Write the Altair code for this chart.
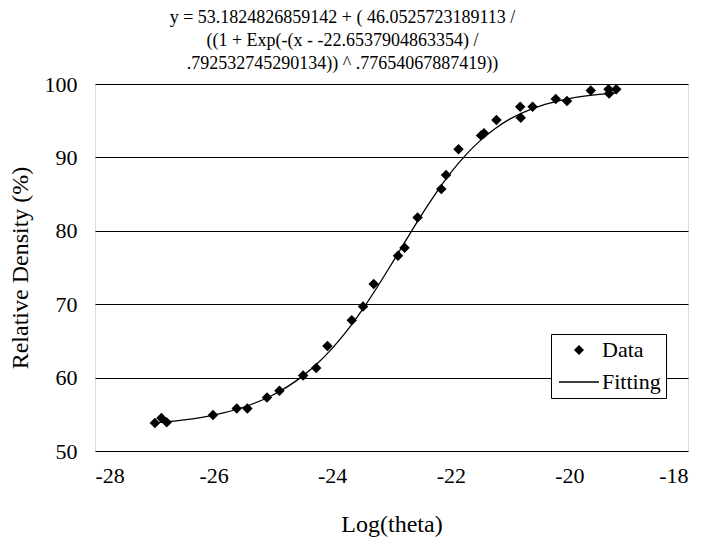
import altair as alt
import pandas as pd

# Measured data points (Log(theta), Relative Density %)
data_x = [-26.99, -26.88, -26.79, -26.01, -25.61, -25.43, -25.10, -24.89, -24.49,
          -24.27, -24.08, -23.67, -23.48, -23.30, -22.89, -22.78, -22.56, -22.16,
          -22.08, -21.87, -21.49, -21.44, -21.23, -20.83, -20.82, -20.62, -20.23,
          -20.04, -19.64, -19.34, -19.33, -19.21]
data_y = [53.8, 54.5, 53.9, 54.9, 55.8, 55.8, 57.3, 58.2, 60.3,
          61.3, 64.3, 67.8, 69.7, 72.75, 76.6, 77.7, 81.8, 85.7,
          87.6, 91.1, 93.0, 93.3, 95.1, 96.9, 95.4, 96.9, 97.96,
          97.7, 99.1, 99.3, 98.7, 99.3]

# Fitting curve
fit_x = [-27.0, -26.5, -26.0, -25.5, -25.0, -24.5, -24.25, -24.0, -23.75, -23.5,
         -23.25, -23.0, -22.75, -22.5, -22.25, -22.0, -21.75, -21.5, -21.25, -21.0,
         -20.5, -20.0, -19.5, -19.2]
fit_y = [53.83, 54.24, 54.90, 55.96, 57.63, 60.20, 61.93, 63.99, 66.40, 69.16,
         72.21, 75.46, 78.80, 82.07, 85.14, 87.92, 90.31, 92.32, 93.95, 95.24,
         97.00, 98.02, 98.58, 98.78]

x_ticks = [-28, -26, -24, -22, -20, -18]
y_ticks = [50, 60, 70, 80, 90, 100]
series_names = ["Data", "Fitting"]

title_lines = ["y = 53.1824826859142 + ( 46.0525723189113 /",
               "((1 + Exp(-(x - -22.6537904863354) /",
               ".792532745290134)) ^  .77654067887419))"]

FONT = "'Liberation Serif', 'Times New Roman', 'DejaVu Serif', serif"

pts = pd.DataFrame({"x": data_x, "y": data_y, "series": "Data"})
fit = pd.DataFrame({"x": fit_x, "y": fit_y})

xs = alt.Scale(domain=[-28, -18], nice=False, zero=False)
ys = alt.Scale(domain=[50, 100], nice=False, zero=False)

x_axis = alt.Axis(values=x_ticks, grid=False, domain=False, ticks=False,
                  labelExpr="'' + datum.value", labelFont=FONT, labelFontSize=22,
                  labelColor="black", labelPadding=14, title="Log(theta)",
                  titleFont=FONT, titleFontSize=24, titleFontWeight="normal",
                  titleColor="black", titlePadding=26)
y_axis = alt.Axis(values=y_ticks, grid=True, gridColor="black", gridWidth=1,
                  gridOpacity=1, domain=False, ticks=False, labelFont=FONT,
                  labelFontSize=22, labelColor="black", labelPadding=18,
                  title="Relative Density (%)", titleFont=FONT, titleFontSize=24,
                  titleFontWeight="normal", titleColor="black", titlePadding=12)

line = alt.Chart(fit).mark_line(color="black", strokeWidth=1.3, interpolate="monotone").encode(
    x=alt.X("x:Q", scale=xs, axis=x_axis),
    y=alt.Y("y:Q", scale=ys, axis=y_axis),
)

# legend symbol for "Fitting": a thin filled bar (a line segment)
LINE_SYMBOL = "M-4,-0.13H4V0.13H-4Z"

points = alt.Chart(pts).mark_point(filled=True, color="black", size=110, opacity=1).encode(
    x=alt.X("x:Q", scale=xs),
    y=alt.Y("y:Q", scale=ys),
    shape=alt.Shape("series:N",
                    scale=alt.Scale(domain=series_names, range=["diamond", LINE_SYMBOL]),
                    legend=alt.Legend(orient="none", legendX=456, legendY=250, title=None,
                                      labelFont=FONT, labelFontSize=22, labelColor="black",
                                      fillColor="white", strokeColor="black", padding=5,
                                      symbolOffset=12, labelOffset=12, rowPadding=10,
                                      symbolSize=100, symbolFillColor="black",
                                      symbolStrokeWidth=0)),
)

chart = alt.layer(line, points).properties(
    width=593, height=367,
    title=alt.TitleParams(text=title_lines, font=FONT, fontSize=18, fontWeight="normal",
                          color="black", lineHeight=23, anchor="middle", dx=-49, offset=0),
    padding={"left": 0, "top": 1, "right": 5, "bottom": 5},
).configure_view(stroke="black", strokeWidth=2.5).configure(background="white")

chart.save("out.html", embed_options={"renderer": "svg", "actions": False})
